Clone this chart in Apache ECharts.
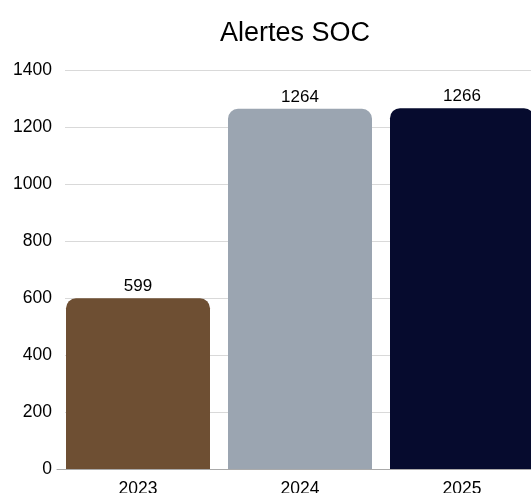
<!DOCTYPE html>
<html><head><meta charset="utf-8">
<script src="https://cdn.jsdelivr.net/npm/echarts@6/dist/echarts.min.js"></script>
<style>html,body{margin:0;padding:0;background:#fff;overflow:hidden}#c{width:543px;height:493px}</style>
</head><body><div id="c"></div>
<script>
const categories = ['2023', '2024', '2025'];
const values = [599, 1264, 1266];
const barColors = ['#6E4F33', '#9BA5B1', '#060B2E'];
const titleText = 'Alertes SOC';

const chart = echarts.init(document.getElementById('c'), null, {renderer: 'canvas'});
chart.setOption({
  animation: false,
  title: {
    text: titleText, left: 290, top: 15, textAlign: 'center',
    textStyle: {fontFamily: 'Liberation Sans', fontSize: 27, fontWeight: 'normal', color: '#000'}
  },
  grid: [
    {left: 57, right: 0, top: 70, bottom: 24, containLabel: false, outerBoundsMode: 'none'},
    {left: 65, right: 0, top: 70, bottom: 24, containLabel: false, outerBoundsMode: 'none'}
  ],
  xAxis: [{
    type: 'category', data: categories, gridIndex: 0, z: 3,
    axisTick: {show: false},
    axisLine: {lineStyle: {color: '#aaaaaa', width: 1}},
    axisLabel: {fontFamily: 'Liberation Sans', fontSize: 17.5, color: '#000', margin: 11}
  }, {
    type: 'category', data: categories, gridIndex: 1, show: false
  }],
  yAxis: [{
    type: 'value', min: 0, max: 1400, interval: 200, gridIndex: 0,
    axisLine: {show: false}, axisTick: {show: false},
    splitLine: {show: false},
    axisLabel: {fontFamily: 'Liberation Sans', fontSize: 17.5, color: '#000', margin: 5, formatter: v => String(v)}
  }, {
    type: 'value', min: 0, max: 1400, interval: 200, gridIndex: 1,
    axisLine: {show: false}, axisTick: {show: false}, axisLabel: {show: false},
    splitLine: {lineStyle: {color: '#d9d9d9', width: 1}}
  }],
  series: [{
    type: 'bar', barWidth: 144, xAxisIndex: 0, yAxisIndex: 0,
    data: values.map((v, i) => ({value: v, itemStyle: {color: barColors[i]}})),
    itemStyle: {borderRadius: [10, 10, 0, 0]},
    label: {show: true, position: 'top', distance: 3, fontFamily: 'Liberation Sans', fontSize: 17, color: '#000'}
  }]
});
</script></body></html>
